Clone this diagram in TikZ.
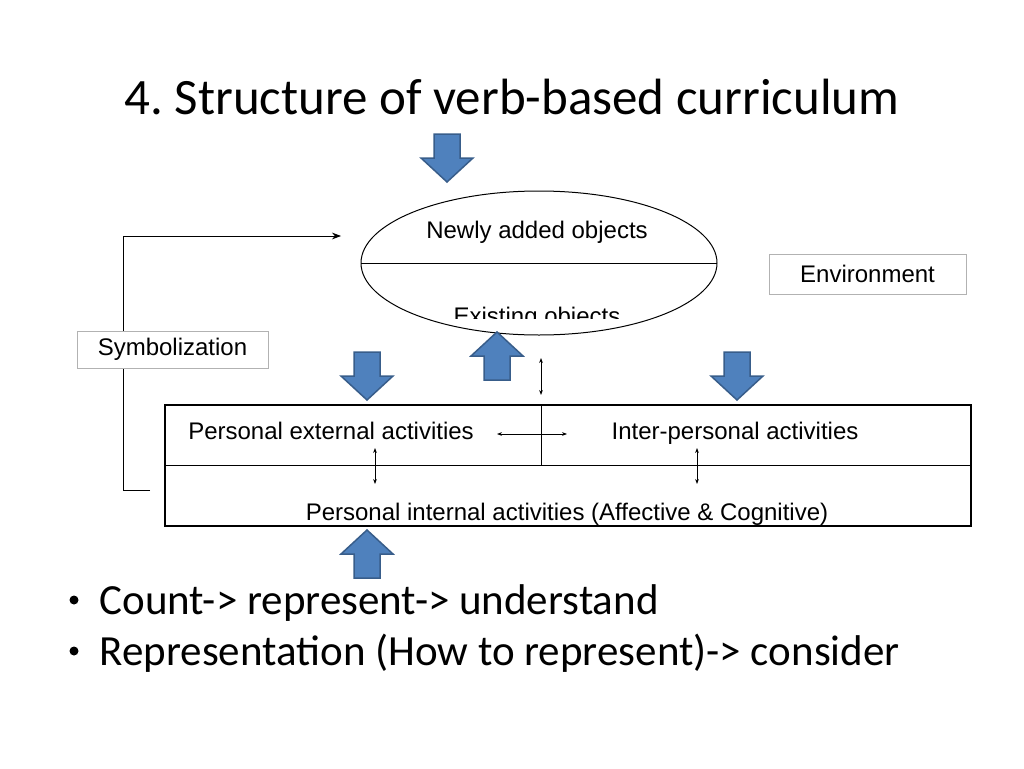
\documentclass[tikz,border=0pt]{standalone}
\usepackage{fontspec}
\setmainfont{Carlito}
\newfontfamily\diagfont{Liberation Sans}
\usetikzlibrary{arrows.meta}
\definecolor{arrowblue}{RGB}{79,129,189}
\definecolor{arrowedge}{RGB}{56,93,138}
\tikzset{
  blockarrow/.pic={\filldraw[fill=arrowblue,draw=arrowedge,line width=1.5pt]
    (-13,-24)--(13,-24)--(13,0)--(26,0)--(0,24)--(-26,0)--(-13,0)--cycle;},
  label box/.style={draw=black!30,fill=white,line width=0.8pt,inner sep=0pt},
  diag text/.style={font=\diagfont\fontsize{24}{28}\selectfont},
  small arrow/.style={{Stealth[length=5pt]}-{Stealth[length=5pt]},line width=0.8pt},
  bullet line/.style={anchor=base west,font=\fontsize{43}{50}\selectfont}
}
\frenchspacing
\begin{document}
\begin{tikzpicture}[x=1pt,y=-1pt]
	\useasboundingbox (0,0) rectangle (1024,768);

	\node[font=\fontsize{51}{60}\selectfont] (title) at (512,97) {4. Structure of verb-based curriculum};

	% feedback line
	\coordinate (fbstart) at (150,490);
	\coordinate (fbend) at (341,236);
	\draw[-{Stealth[length=9pt]},line width=0.8pt] (fbstart) -- (123,490) |- (fbend);

	% objects ellipse
	\draw[line width=1pt] (539,263) ellipse [x radius=178,y radius=72];
	\draw[line width=1pt] (361,263) -- (717,263);
	\node[diag text] (newobj) at (537,232) {Newly added objects};
	\begin{scope}
		\clip (400,290) rectangle (680,318);
		\node[diag text] (oldobj) at (537,318) {Existing objects};
	\end{scope}

	% side labels
	\node[label box,diag text,minimum width=197,minimum height=40] (env) at (867.5,274) {Environment};
	\node[label box,diag text,minimum width=191,minimum height=37] (sym) at (172.5,349.5) {Symbolization};

	% activities
	\draw[line width=1.2pt] (165,405) rectangle (971,526);
	\draw[line width=1pt] (165,465) -- (971,465);
	\draw[line width=1pt] (541,405) -- (541,465);
	\node[diag text,anchor=base] (ext) at (331,439) {Personal external activities};
	\node[diag text,anchor=base] (inter) at (735,439) {Inter-personal activities};
	\node[diag text,anchor=base] (int) at (567,520) {Personal internal activities (Affective \& Cognitive)};

	% small arrows
	\draw[small arrow] (541,358) -- (541,395);
	\draw[small arrow] (497,434) -- (567,434);
	\draw[small arrow] (375,448) -- (375,484);
	\draw[small arrow] (697,448) -- (697,484);

	% block arrows
	\foreach \x/\y/\r in {447/158/0, 367/376/0, 737/376/0, 497/356/180, 367/554/180}
		\pic[rotate=\r] at (\x,\y) {blockarrow};

	% bullets
	\fill (74,600) circle (4.5);
	\fill (74,651) circle (4.5);
	\node[bullet line] (b1) at (96,614) {Count-> represent-> understand};
	\node[bullet line] (b2) at (96,665) {Representation (How to represent)-> consider};
\end{tikzpicture}
\end{document}
